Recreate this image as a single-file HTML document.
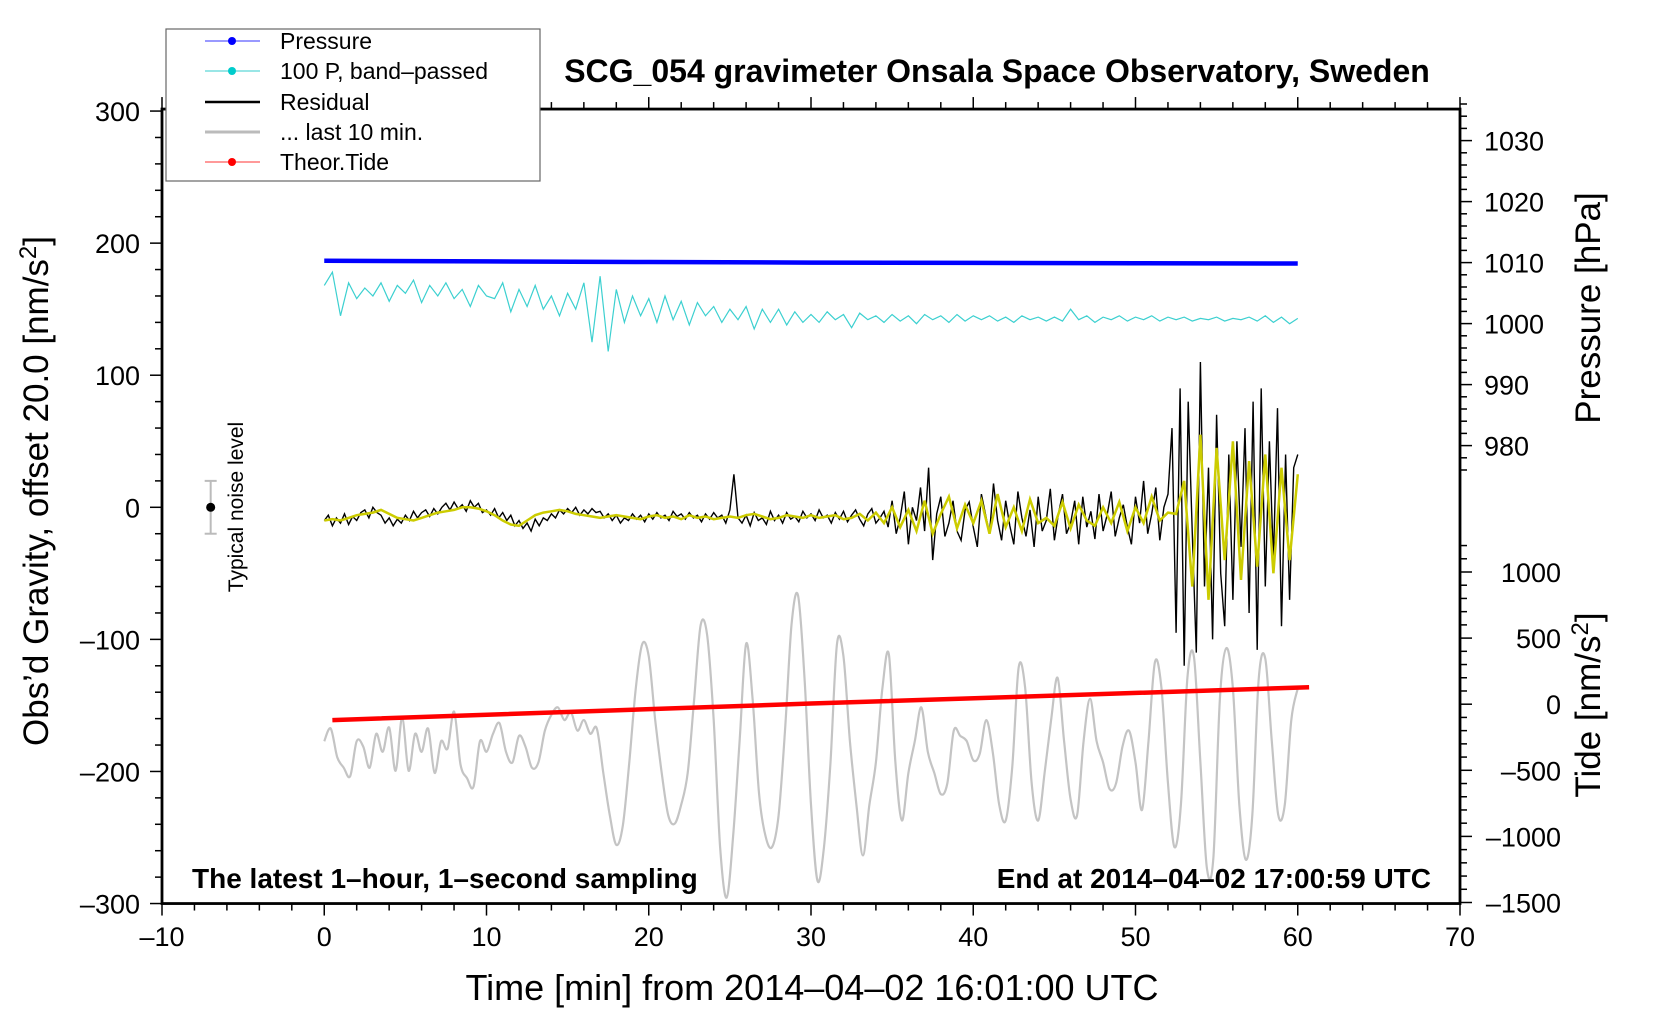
<!DOCTYPE html>
<html><head><meta charset="utf-8"><style>
html,body{margin:0;padding:0;background:#fff;}
svg{display:block;font-family:"Liberation Sans",sans-serif;}
</style></head><body>
<svg id="chart" width="1660" height="1020" viewBox="0 0 1660 1020" xmlns="http://www.w3.org/2000/svg">
<rect width="1660" height="1020" fill="#fff"/>
<g id="marks"></g>
<g id="axes"></g>
<text x="997" y="82" font-size="32" font-weight="bold" text-anchor="middle">SCG_054 gravimeter Onsala Space Observatory, Sweden</text>
<text x="192" y="888" font-size="28" font-weight="bold">The latest 1–hour, 1–second sampling</text>
<text x="1431" y="888" font-size="28" font-weight="bold" text-anchor="end">End at 2014–04–02 17:00:59 UTC</text>
<text x="812" y="1000" font-size="36" text-anchor="middle">Time [min] from 2014–04–02 16:01:00 UTC</text>
<text transform="translate(48,491) rotate(-90)" font-size="35" text-anchor="middle">Obs’d Gravity, offset 20.0 [nm/s<tspan dy="-12" font-size="24">2</tspan><tspan dy="12">]</tspan></text>
<text transform="translate(1600,308) rotate(-90)" font-size="35" text-anchor="middle">Pressure [hPa]</text>
<text transform="translate(1600,705) rotate(-90)" font-size="35" text-anchor="middle">Tide [nm/s<tspan dy="-12" font-size="24">2</tspan><tspan dy="12">]</tspan></text>
<text transform="translate(243,507) rotate(-90)" font-size="21" text-anchor="middle">Typical noise level</text>
<g>
<rect x="166" y="29" width="374" height="152" fill="#fff" stroke="#666" stroke-width="1.2"/>
<g><line x1="205" y1="41" x2="260" y2="41" stroke="#33f" stroke-width="1"/><circle cx="232" cy="41" r="4" fill="#00f"/><text x="280" y="49" font-size="23">Pressure</text></g>
<g><line x1="205" y1="71" x2="260" y2="71" stroke="#3cc" stroke-width="1"/><circle cx="232" cy="71" r="4" fill="#0cc"/><text x="280" y="79" font-size="23">100 P, band–passed</text></g>
<g><line x1="205" y1="102" x2="260" y2="102" stroke="#000" stroke-width="2.5"/><text x="280" y="110" font-size="23">Residual</text></g>
<g><line x1="205" y1="132" x2="260" y2="132" stroke="#bbb" stroke-width="3"/><text x="280" y="140" font-size="23">... last 10 min.</text></g>
<g><line x1="205" y1="162" x2="260" y2="162" stroke="#f33" stroke-width="1"/><circle cx="232" cy="162" r="4" fill="#f00"/><text x="280" y="170" font-size="23">Theor.Tide</text></g>
</g>
</svg>
<script>
const xTicks=[-10,0,10,20,30,40,50,60,70];
const gTicks=[300,200,100,0,-100,-200,-300];
const pTicks=[1030,1020,1010,1000,990,980];
const tTicks=[1000,500,0,-500,-1000,-1500];
const pressureTimes=[0,10,20,30,40,50,60];
const pressureVals=[1010.3,1010.2,1010.1,1010.0,1009.95,1009.9,1009.85];
const tideTimes=[0.5,30,60.7];
const tideVals=[-120,5,128];
const bandPassed=[168,178,145,170,158,166,160,170,156,168,162,
172,155,168,160,170,158,165,152,168,160,
158,170,148,165,152,168,150,160,145,162,
150,170,125,175,118,165,140,160,145,158,
140,160,142,156,138,155,145,152,140,150,
142,152,135,150,140,150,138,148,140,146,
140,148,142,146,136,147,142,145,140,146,
141,145,139,146,142,145,140,146,141,145,
142,145,141,144,140,145,142,144,141,144,
141,150,142,145,140,144,142,145,141,144,
142,145,141,144,142,144,141,143,142,144,
141,143,142,144,141,145,140,144,139,143];
const residual=[-10,-6,-14,-8,-12,-5,-13,-7,-10,-4,-2,-8,0,-4,-6,-12,-8,-14,-9,-12,-6,-10,-3,-8,-4,-2,-7,-1,-5,0,3,-2,4,-1,2,-3,5,0,3,-4,
-2,-6,-1,-8,-4,-10,-6,-14,-10,-16,-12,-18,-9,-14,-8,-10,-5,-8,-2,-5,-1,-4,0,-6,-2,-5,-1,-4,-3,-8,-5,-10,-6,-12,-8,-10,-5,-9,-6,-11,
-5,-9,-4,-8,-6,-10,-3,-7,-5,-9,-4,-8,-6,-11,-5,-9,-4,-8,-6,-12,-2,25,-8,-12,-6,-14,-4,-10,-8,-13,-3,-10,-6,-12,-4,-9,-7,-11,-3,-8,
-5,-10,-2,-8,-6,-12,-4,-9,-3,-11,-6,-2,-9,-14,-5,-1,-12,-8,-3,-15,5,-20,-8,12,-28,0,-10,15,-18,30,-40,-5,8,-22,-12,5,-18,-25,-2,4,
-15,-30,10,-5,-20,18,-10,-25,5,-14,-28,12,-8,-22,-2,-30,8,-18,-10,14,-25,-5,10,-20,-12,5,-28,8,-15,-3,-24,10,-18,-6,12,-22,-8,2,-15,-28,
8,-12,20,-20,-5,15,-25,0,10,60,-95,90,-120,80,-20,-110,110,-60,30,-100,70,-50,-90,40,-70,50,-30,60,-80,80,-108,90,-60,50,-40,75,-90,40,-70,30,
40];
const smoothed=[-10,-9,-10,-8,-6,-5,-4,-2,-5,-8,-9,-10,-8,-6,-4,-3,-2,0,0,-1,
-3,-6,-10,-13,-14,-10,-6,-4,-3,-2,-3,-5,-6,-7,-8,-7,-6,-7,-8,-9,
-7,-6,-8,-7,-9,-6,-8,-7,-9,-8,-7,-8,-6,-5,-7,-9,-8,-6,-7,-8,
-6,-8,-7,-6,-9,-8,-5,-10,-4,-12,0,-15,-2,-18,5,-20,-5,8,-16,2,
-12,5,-20,10,-15,0,-18,6,-12,-8,-14,4,-16,2,-10,-14,0,-12,4,-18,
0,-12,8,-10,-4,-5,20,-60,55,-70,45,-40,50,-55,35,-45,40,-50,30,-40,25];
const last10=[-280,-184,-400,-480,-544,-280,-320,-480,-224,-360,-176,-504,-104,-504,-224,-360,-184,-520,-280,-336,-56,-456,-560,-624,-280,-360,-224,-144,-360,-440,-240,-320,-480,-440,-200,-80,-24,-120,-60,-200,-120,-224,-184,-520,-840,-1064,-920,-440,120,456,360,-120,-520,-840,-904,-760,-520,40,600,520,-120,-1080,-1464,-1000,-280,456,40,-680,-1000,-1080,-840,-200,600,824,200,-760,-1336,-1080,-440,456,360,-280,-760,-1144,-760,-440,120,376,-440,-880,-520,-280,-24,-360,-520,-680,-600,-200,-240,-280,-424,-376,-120,-360,-760,-880,-480,280,120,-600,-880,-520,-120,200,-280,-720,-840,-280,40,-280,-440,-640,-600,-320,-200,-440,-800,-280,320,120,-600,-1080,-760,200,360,-440,-1240,-1160,40,424,120,-760,-1176,-840,200,344,-280,-840,-760,-120,120];
const noiseCenter=0, noiseHalf=20, noiseTime=-7;

const X=t=>162+(t+10)*16.225;
const YG=g=>507.3-g*1.3208;
const YP=p=>262.6-(p-1010)*6.10;
const YT=v=>704.2-v*0.1322;
const NS='http://www.w3.org/2000/svg';
const marks=document.getElementById('marks'), axes=document.getElementById('axes');
function mk(tag,attrs,parent){const e=document.createElementNS(NS,tag);for(const k in attrs)e.setAttribute(k,attrs[k]);parent.appendChild(e);return e;}
function series(vals,t0,t1,yf){const n=vals.length;return vals.map((v,i)=>X(t0+(t1-t0)*i/(n-1)).toFixed(1)+','+yf(v).toFixed(1)).join(' ');}
function smoothPath(pts){let d='M'+pts[0][0]+','+pts[0][1];for(let i=0;i<pts.length-1;i++){const p0=pts[Math.max(i-1,0)],p1=pts[i],p2=pts[i+1],p3=pts[Math.min(i+2,pts.length-1)];
d+=' C'+(p1[0]+(p2[0]-p0[0])/6).toFixed(1)+','+(p1[1]+(p2[1]-p0[1])/6).toFixed(1)+' '+(p2[0]-(p3[0]-p1[0])/6).toFixed(1)+','+(p2[1]-(p3[1]-p1[1])/6).toFixed(1)+' '+p2[0].toFixed(1)+','+p2[1].toFixed(1);}return d;}

const gp=last10.map((v,i)=>[X(60*i/(last10.length-1)),YT(v)]);
const gl=mk('path',{d:smoothPath(gp),fill:'none',stroke:'#c4c4c4','stroke-width':2.2},marks);


const tl=mk('polyline',{points:tideTimes.map((t,i)=>X(t)+','+YT(tideVals[i])).join(' '),fill:'none',stroke:'#f00','stroke-width':4.5},marks);


const pl=mk('polyline',{points:pressureTimes.map((t,i)=>X(t)+','+YP(pressureVals[i])).join(' '),fill:'none',stroke:'#00f','stroke-width':4.5},marks);


const bl=mk('polyline',{points:series(bandPassed,0,60,YG),fill:'none',stroke:'#3cd0d0','stroke-width':1.2},marks);


const rl=mk('polyline',{points:series(residual,0,60,YG),fill:'none',stroke:'#000','stroke-width':1.4},marks);


const yl=mk('polyline',{points:series(smoothed,0,60,YG),fill:'none',stroke:'#cccc00','stroke-width':2.5},marks);


const nb=mk('g',{},marks);


mk('line',{x1:X(noiseTime),x2:X(noiseTime),y1:YG(noiseCenter+noiseHalf),y2:YG(noiseCenter-noiseHalf),stroke:'#bbb','stroke-width':2},nb);
mk('line',{x1:X(noiseTime)-6,x2:X(noiseTime)+6,y1:YG(noiseCenter+noiseHalf),y2:YG(noiseCenter+noiseHalf),stroke:'#bbb','stroke-width':2},nb);
mk('line',{x1:X(noiseTime)-6,x2:X(noiseTime)+6,y1:YG(noiseCenter-noiseHalf),y2:YG(noiseCenter-noiseHalf),stroke:'#bbb','stroke-width':2},nb);
mk('circle',{cx:X(noiseTime),cy:YG(noiseCenter),r:4.5,fill:'#000'},nb);

const L=X(-10),R=X(70),T=YG(300)-2,B=YG(-300);
const fr=mk('rect',{x:L,y:T,width:R-L,height:B-T,fill:'none',stroke:'#000','stroke-width':2.8},axes);


for(let t=-10;t<=70;t+=2){const maj=t%10===0;const len=maj?12:7;
mk('line',{x1:X(t),x2:X(t),y1:B,y2:B+len,stroke:'#000','stroke-width':1.5},axes);
mk('line',{x1:X(t),x2:X(t),y1:T,y2:T-len,stroke:'#000','stroke-width':1.5},axes);}
xTicks.forEach(t=>{const e=mk('text',{x:X(t),y:946,'font-size':27,'text-anchor':'middle'},axes);e.textContent=t<0?'–'+(-t):t;

});
for(let g=-300;g<=300;g+=20){const maj=g%100===0;mk('line',{x1:L,x2:L-(maj?12:7),y1:YG(g),y2:YG(g),stroke:'#000','stroke-width':1.5},axes);}
gTicks.forEach(g=>{const e=mk('text',{x:140,y:YG(g)+10,'font-size':27,'text-anchor':'end'},axes);e.textContent=g<0?'–'+(-g):g;

});
for(let p=976;p<=1036;p+=2){const maj=p%10===0;mk('line',{x1:R,x2:R+(maj?12:7),y1:YP(p),y2:YP(p),stroke:'#000','stroke-width':1.5},axes);}
pTicks.forEach(p=>{const e=mk('text',{x:1484,y:YP(p)+10,'font-size':27},axes);e.textContent=p;

});
for(let v=-1500;v<=1250;v+=100){const maj=v%500===0;mk('line',{x1:R,x2:R+(maj?12:7),y1:YT(v),y2:YT(v),stroke:'#000','stroke-width':1.5},axes);}
tTicks.forEach(v=>{const e=mk('text',{x:1561,y:YT(v)+10,'font-size':27,'text-anchor':'end'},axes);e.textContent=v<0?'–'+(-v):v;

});
</script>
</body></html>
